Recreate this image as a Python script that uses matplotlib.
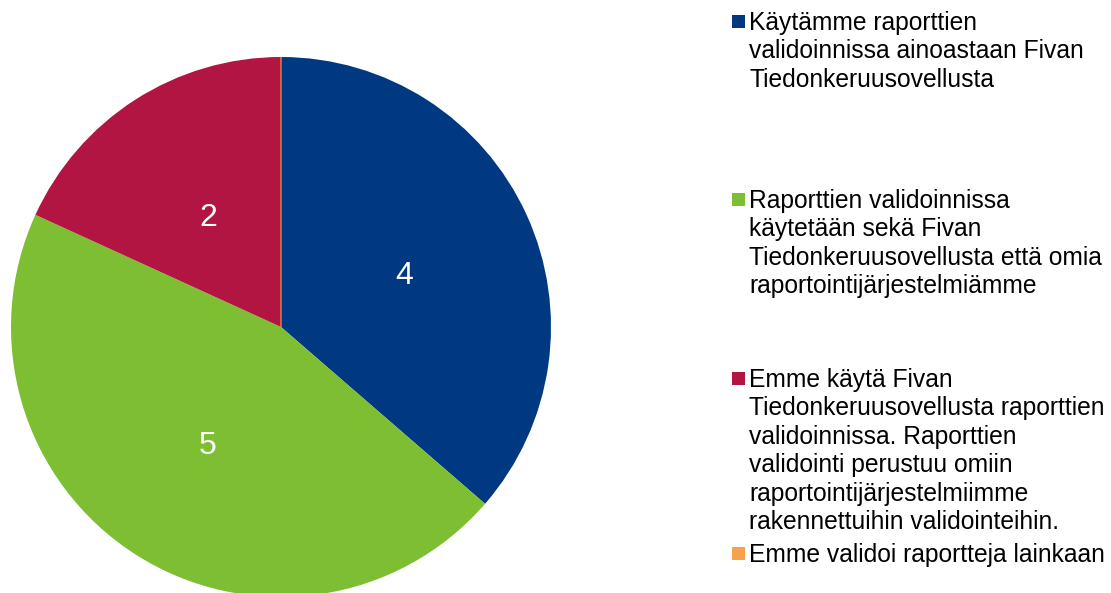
import matplotlib
matplotlib.use("Agg")
import matplotlib.pyplot as plt
from matplotlib.patches import Rectangle

plt.rcParams['font.family'] = ['Liberation Sans', 'DejaVu Sans']

# Data
categories = [
    "Käytämme raporttien\nvalidoinnissa ainoastaan Fivan\nTiedonkeruusovellusta",
    "Raporttien validoinnissa\nkäytetään sekä Fivan\nTiedonkeruusovellusta että omia\nraportointijärjestelmiämme",
    "Emme käytä Fivan\nTiedonkeruusovellusta raporttien\nvalidoinnissa. Raporttien\nvalidointi perustuu omiin\nraportointijärjestelmiimme\nrakennettuihin validointeihin.",
    "Emme validoi raportteja lainkaan",
]
values = [4, 5, 2, 0]
colors = ["#003882", "#7DBE32", "#B31542", "#F7A14F"]

W, H = 1111, 593
fig = plt.figure(figsize=(W / 100, H / 100), dpi=100)
ax = fig.add_axes([0, 0, 1, 1])

total = sum(values)

def fmt(p):
    v = round(p * total / 100)
    return f"{v}" if v > 0 else ""

wedges, texts, autotexts = ax.pie(
    values, colors=colors, startangle=90, counterclock=False,
    center=(281, H - 327), radius=270, autopct=fmt, pctdistance=0.5,
    wedgeprops=dict(linewidth=0), textprops=dict(color="white", fontsize=23),
    frame=True,
)
ax.set_xlim(0, W)
ax.set_ylim(0, H)
ax.set_aspect('auto')
ax.axis('off')
for w, v, c in zip(wedges, values, colors):
    if v == 0:
        w.set_edgecolor(c)
        w.set_linewidth(0.8)
for t in autotexts:
    x, y = t.get_position()
    t.set_position((x, y - 5))

# Legend (manual layout)
first_baselines = [30, 208, 387, 562]
line_step = 28.4
for label, color, b0 in zip(categories, colors, first_baselines):
    ax.add_patch(Rectangle((732, H - b0 + 2), 13, 13, facecolor=color, edgecolor='none'))
    for i, line in enumerate(label.split("\n")):
        ax.text(749, H - (b0 + i * line_step), line, fontsize=17.75, color="#000000",
                va='baseline', ha='left')

fig.savefig("out.png", dpi=100)
